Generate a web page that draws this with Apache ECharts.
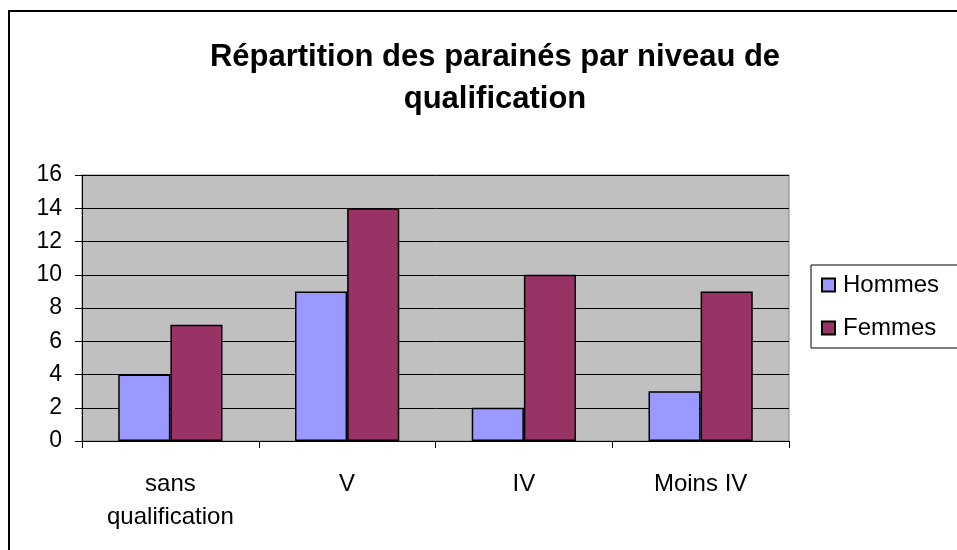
<!DOCTYPE html>
<html>
<head>
<meta charset="utf-8">
<script src="https://cdn.jsdelivr.net/npm/echarts@6/dist/echarts.min.js"></script>
<style>
  html, body { margin: 0; padding: 0; background: #fff; }
  #chart { width: 957px; height: 550px; }
</style>
</head>
<body>
<div id="chart"></div>
<script>
var categories = ['sans\nqualification', 'V', 'IV', 'Moins IV'];
var hommes = [4, 9, 2, 3];
var femmes = [7, 14, 10, 9];
var yTicks = [0, 16, 2];

var myChart = echarts.init(document.getElementById('chart'));

var font = 'Liberation Sans, Arial, sans-serif';

var option = {
    backgroundColor: '#fff',
    animation: false,
    title: {
        text: 'Répartition des parainés par niveau de\nqualification',
        left: 490,
        textAlign: 'center',
        top: 31,
        textStyle: {
            fontFamily: font,
            fontSize: 31,
            fontWeight: 'bold',
            color: '#000',
            lineHeight: 42
        }
    },
    graphic: [{
        type: 'rect',
        shape: { x: 9, y: 11, width: 960, height: 560 },
        style: { fill: 'none', stroke: '#000', lineWidth: 2 },
        silent: true
    }],
    legend: {
        orient: 'vertical',
        left: 811,
        top: 265,
        data: ['Hommes', 'Femmes'],
        icon: 'rect',
        itemWidth: 13,
        itemHeight: 13,
        itemGap: 19,
        padding: [8, 40, 8, 10],
        borderColor: '#000',
        borderWidth: 1,
        textStyle: { fontFamily: font, fontSize: 24, color: '#000', padding: [0, 0, 0, 3] }
    },
    grid: {
        left: 82,
        right: 168,
        top: 175,
        bottom: 109,
        show: true,
        backgroundColor: '#C0C0C0',
        borderColor: '#808080',
        borderWidth: 1
    },
    xAxis: {
        type: 'category',
        data: categories,
        axisLine: { lineStyle: { color: '#000' } },
        axisTick: { show: true, alignWithLabel: false, length: 7, lineStyle: { color: '#000' } },
        axisLabel: {
            fontFamily: font,
            fontSize: 24,
            color: '#000',
            margin: 27,
            lineHeight: 33,
            interval: 0
        }
    },
    yAxis: {
        type: 'value',
        min: yTicks[0],
        max: yTicks[1],
        interval: yTicks[2],
        axisLine: { show: true, lineStyle: { color: '#000' } },
        axisTick: { show: true, length: 7, lineStyle: { color: '#000' } },
        splitLine: { lineStyle: { color: '#000', width: 1 } },
        axisLabel: { fontFamily: font, fontSize: 23, color: '#000', margin: 20 }
    },
    series: [{
        name: 'Hommes',
        type: 'bar',
        data: hommes,
        barGap: '0%',
        barCategoryGap: '41%',
        itemStyle: { color: '#9999FF', borderColor: '#000', borderWidth: 1.5 }
    }, {
        name: 'Femmes',
        type: 'bar',
        data: femmes,
        itemStyle: { color: '#993366', borderColor: '#000', borderWidth: 1.5 }
    }]
};

myChart.setOption(option);
</script>
</body>
</html>
